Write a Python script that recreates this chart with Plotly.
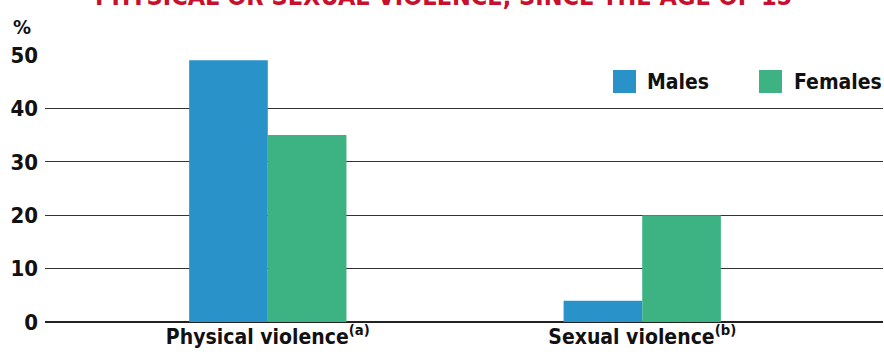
import plotly.graph_objects as go

categories = ["Physical violence<sup>(a)</sup>", "Sexual violence<sup>(b)</sup>"]
series_names = ["Males", "Females"]
males = [49, 4]
females = [35, 20]
tick_vals = [0, 10, 20, 30, 40, 50]
tick_text = ["0", "10", "20", "30", "40", "50"]
title_text = "PHYSICAL OR SEXUAL VIOLENCE, SINCE THE AGE OF 15"

colors = ["#2892C9", "#3DB282"]
FONT = "DejaVu Sans Condensed, Liberation Sans Narrow, Arial Narrow, sans-serif"

fig = go.Figure()
for name, vals, col in zip(series_names, [males, females], colors):
    fig.add_trace(go.Bar(x=categories, y=vals, name=name, marker_color=col,
                         marker_line_width=0, showlegend=False))

fig.update_layout(
    width=884, height=354,
    margin=dict(l=45, r=1, t=55, b=32),
    barmode="group", bargap=0.58, bargroupgap=0,
    plot_bgcolor="white", paper_bgcolor="white",
    font=dict(family=FONT, color="#111111"),
    xaxis=dict(range=[-0.595, 1.643], showgrid=False, showline=False, ticks="",
               tickfont=dict(size=21, weight="bold", family=FONT, color="#111")),
    yaxis=dict(range=[0, 50], tickvals=tick_vals, ticktext=tick_text,
               showgrid=True, gridcolor="#333333", gridwidth=1.2,
               zeroline=True, zerolinecolor="#222222", zerolinewidth=1.5,
               showline=False, ticks="", ticklabelstandoff=6,
               tickfont=dict(size=22, weight="bold", family=FONT, color="#111")),
)

# percent label
fig.add_annotation(text="%", xref="paper", yref="paper", x=-0.028, y=1.0, yshift=28,
                   xanchor="center", yanchor="middle", showarrow=False,
                   font=dict(size=20, weight="bold", family=FONT, color="#111"))
# cropped title (only its lower part is visible, as in the source)
fig.add_annotation(text=title_text, xref="paper", yref="paper", x=0.475, y=1.0, yshift=42,
                   xanchor="center", yanchor="bottom", showarrow=False,
                   font=dict(size=25, weight="bold", family=FONT, color="#C8102E"))

# manual legend
legend_pos = [(613, 645), (759, 792)]
for (bx, tx), name, col in zip(legend_pos, series_names, colors):
    fig.add_shape(type="rect", xref="paper", yref="paper",
                  x0=(bx - 45) / 838, x1=(bx + 23 - 45) / 838,
                  y0=(322 - 93) / 267, y1=(322 - 70) / 267,
                  fillcolor=col, line_width=0)
    fig.add_annotation(text=name, xref="paper", yref="paper",
                       x=(tx - 45) / 838, y=(322 - 81.5) / 267,
                       xanchor="left", yanchor="middle", showarrow=False,
                       font=dict(size=21, weight="bold", family=FONT, color="#111"))

fig.write_html("out.html", config={"displayModeBar": False},
               post_script="document.body.style.margin='0';document.body.style.overflow='hidden';")
